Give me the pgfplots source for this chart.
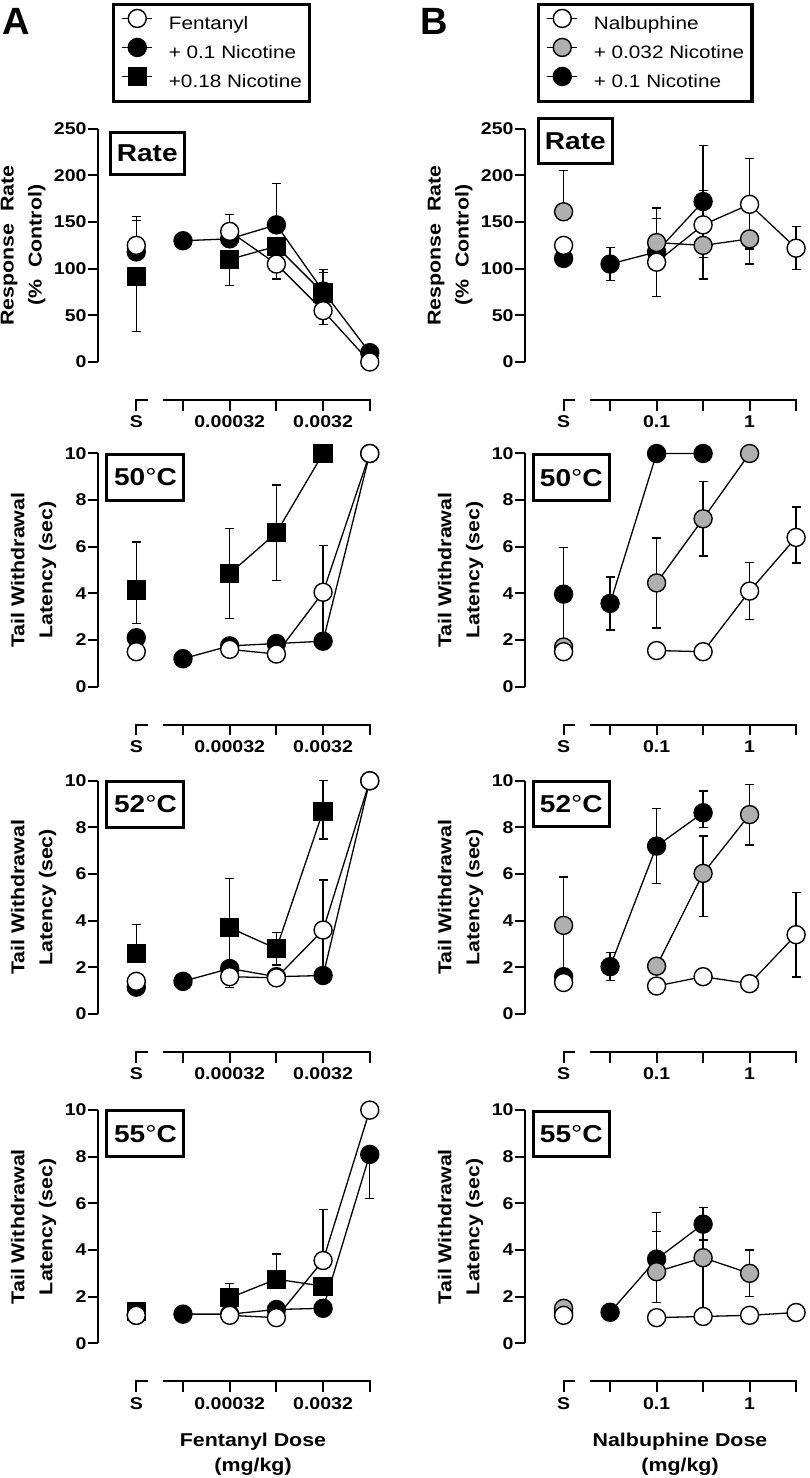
\documentclass[border=0pt]{standalone}
\usepackage{fontspec}
\setmainfont{Liberation Sans}[FakeStretch=1.15]
\newfontfamily\plainfont{Liberation Sans}
\usepackage{pgfplots}
\pgfplotsset{compat=1.18}
\definecolor{gfill}{RGB}{175,175,175}
\newcommand{\ticklab}{\fontsize{8.5}{10}\selectfont\bfseries}
\newcommand{\ylab}{\fontsize{9.3}{14}\selectfont\bfseries}
\newcommand{\boxf}{\fontsize{12.2}{14}\selectfont\bfseries}
\newcommand{\legf}{\fontsize{9}{14}\selectfont}
\newcommand{\dg}{{\mdseries °}}
\newcommand{\lsp}{\hspace*{8pt}}
\pgfplotsset{
  table/x=x, table/y=y, table/y error plus=p, table/y error minus=m,
  panel/.style={scale only axis, width=140.1pt, height=116.6pt,
    xmin=-1.82, xmax=4.18, ymin=0, enlargelimits=false, clip=false,
    axis x line=none, axis y line=left, xtick=\empty,
    axis line style={-, line width=1pt, black},
    major tick style={line width=1pt, black},
    tick align=outside, major tick length=4.85pt,
    yticklabel style={font=\ticklab, inner sep=0.7pt},
    ylabel style={font=\ylab, align=center},
    unbounded coords=jump,
    /pgf/number format/assume math mode=true},
  rpanel/.style={panel, width=139.5pt, xmin=-1.83, xmax=4.17},
  ratep/.style={ymax=250, ytick={0,50,...,250}, ylabel={Response\ \ Rate\\(\%\ \ Control)}},
  tailp/.style={ymax=10, ytick={0,2,...,10}, ylabel={Tail Withdrawal\\Latency (sec)}},
  sOpen/.style={black, line width=0.65pt, mark=*, mark size=4.5pt, mark options={fill=white, draw=black, line width=0.7pt}},
  sBlack/.style={black, line width=0.65pt, mark=*, mark size=4.5pt, mark options={fill=black, draw=black, line width=0.7pt}},
  sGray/.style={black, line width=0.65pt, mark=*, mark size=4.5pt, mark options={fill=gfill, draw=black, line width=0.7pt}},
  sSq/.style={black, line width=0.65pt, mark=square*, mark size=4.45pt, mark options={fill=black, draw=black, line width=0.7pt}},
  eb/.style={forget plot, error bars/.cd, y dir=both, y explicit,
    error bar style={line width=0.65pt, black},
    error mark options={rotate=90, line width=0.65pt, black, mark size=2.25pt}},
  legbox/.style={legend style={at={(#1,1.54)}, anchor=north west, draw=black, line width=1.6pt,
    inner xsep=4pt, inner ysep=2.5pt, row sep=0pt,
    nodes={inner sep=0pt, minimum height=14pt, font=\legf}},
    legend cell align=left},
}
\tikzset{
  axl/.style={line width=1pt, black},
  xlab/.style={anchor=base, inner sep=0pt, font=\ticklab},
  pbox/.style={draw=black, line width=1.5pt, fill=white, inner sep=0pt, font=\boxf, anchor=north west},
}
\newcommand{\xaxis}[2]{%
  \draw[axl] ([yshift=-24.3pt]axis cs:-1,0) -- ([yshift=-19pt]axis cs:-1,0) -- ([yshift=-19pt]axis cs:-0.75,0);
  \draw[axl] ([yshift=-19pt]axis cs:-0.43,0) -- ([yshift=-19pt]axis cs:4,0) -- ([yshift=-24.3pt]axis cs:4,0);
  \draw[axl] ([yshift=-19pt]axis cs:0,0) -- ([yshift=-24.3pt]axis cs:0,0);
  \draw[axl] ([yshift=-19pt]axis cs:1,0) -- ([yshift=-24.3pt]axis cs:1,0);
  \draw[axl] ([yshift=-19pt]axis cs:2,0) -- ([yshift=-24.3pt]axis cs:2,0);
  \draw[axl] ([yshift=-19pt]axis cs:3,0) -- ([yshift=-24.3pt]axis cs:3,0);
  \node[xlab] at ([yshift=-33pt]axis cs:-1,0) {S};
  \node[xlab] at ([yshift=-33pt]axis cs:1,0) {#1};
  \node[xlab] at ([yshift=-33pt]axis cs:3,0) {#2};
}
\begin{document}
\begin{tikzpicture}
\useasboundingbox (0pt,0pt) rectangle (404.5pt,739pt);
\node[anchor=base west, inner sep=0pt, font=\plainfont\fontsize{19}{20}\selectfont\bfseries] at (1pt,721.5pt) {A};
\node[anchor=base west, inner sep=0pt, font=\plainfont\fontsize{19}{20}\selectfont\bfseries] at (210pt,721.5pt) {B};

% ===== Left column =====
\begin{axis}[panel, ratep, at={(49pt,558pt)}, anchor=south west, legbox=0.05,
  legend image code/.code={\draw[mark repeat=2,mark phase=2,#1] plot coordinates {(0pt,3pt) (7.5pt,3pt) (15pt,3pt)};}]
\addlegendimage{sOpen}\addlegendentry{\lsp Fentanyl}
\addlegendimage{sBlack}\addlegendentry{\lsp + 0.1 Nicotine}
\addlegendimage{sSq}\addlegendentry{\lsp +0.18 Nicotine}
\addplot[sBlack, eb] table {
x y p m
-1 118 34 0
nan nan 0 0
0 130 0 0
1 132 0 0
2 147 44 0
3 76 20 0
4 10 0 0
};
\addplot[sSq, eb] table {
x y p m
-1 92 0 59
nan nan 0 0
1 110 0 28
2 124 0 0
3 74 25 0
};
\addplot[sOpen, eb] table {
x y p m
-1 125 31 0
nan nan 0 0
1 140 18 0
2 105 0 16
3 55 0 15
4 0 0 0
};
\node[pbox, minimum width=37.25pt, minimum height=20.75pt] at (axis cs:-1.595,247.3) {Rate};
\xaxis{0.00032}{0.0032}
\end{axis}

\begin{axis}[panel, tailp, at={(49pt,395.65pt)}, anchor=south west]
\addplot[sBlack, eb] table {
x y p m
-1 2.1 0 0
nan nan 0 0
0 1.2 0 0
1 1.75 0 0
2 1.85 0 0
3 1.95 0 0
4 10 0 0
};
\addplot[sSq, eb] table {
x y p m
-1 4.15 2.05 1.45
nan nan 0 0
1 4.85 1.93 1.93
2 6.6 2.05 2.05
3 10 0 0
};
\addplot[sOpen, eb] table {
x y p m
-1 1.5 0 0
nan nan 0 0
1 1.6 0 0
2 1.4 0 0
3 4.05 2.0 2.0
4 10 0 0
};
\node[pbox, minimum width=38.5pt, minimum height=23pt] at (axis cs:-1.66,10.03) {50\dg C};
\xaxis{0.00032}{0.0032}
\end{axis}

\begin{axis}[panel, tailp, at={(49pt,232pt)}, anchor=south west]
\addplot[sBlack, eb] table {
x y p m
-1 1.15 0 0
nan nan 0 0
0 1.4 0 0
1 1.95 0 0
2 1.6 0 0
3 1.65 0 0
4 10 0 0
};
\addplot[sSq, eb] table {
x y p m
-1 2.6 1.25 0
nan nan 0 0
1 3.7 2.1 2.1
2 2.8 0.7 0.7
3 8.7 1.3 1.2
};
\addplot[sOpen, eb] table {
x y p m
-1 1.4 0 0
nan nan 0 0
1 1.6 0 0.45
2 1.55 0 0
3 3.6 2.15 2.15
4 10 0 0
};
\node[pbox, minimum width=38.5pt, minimum height=23pt] at (axis cs:-1.66,10.03) {52\dg C};
\xaxis{0.00032}{0.0032}
\end{axis}

\begin{axis}[panel, tailp, at={(49pt,67.35pt)}, anchor=south west]
\addplot[sBlack, eb] table {
x y p m
-1 1.2 0 0
nan nan 0 0
0 1.25 0 0
1 1.25 0 0
2 1.45 0 0
3 1.5 0 0
4 8.1 0 1.9
};
\addplot[sSq, eb] table {
x y p m
-1 1.35 0 0
nan nan 0 0
1 1.95 0.6 0
2 2.75 1.08 0
3 2.45 0 0
};
\addplot[sOpen, eb] table {
x y p m
-1 1.2 0 0
nan nan 0 0
1 1.2 0 0
2 1.1 0 0
3 3.55 2.2 0
4 10 0 0
};
\node[pbox, minimum width=38.5pt, minimum height=23pt] at (axis cs:-1.66,10.03) {55\dg C};
\xaxis{0.00032}{0.0032}
\end{axis}

% ===== Right column =====
\begin{axis}[rpanel, ratep, at={(262.5pt,558pt)}, anchor=south west, legbox=0.043,
  legend image code/.code={\draw[mark repeat=2,mark phase=2,#1] plot coordinates {(0pt,3pt) (7.5pt,3pt) (15pt,3pt)};}]
\addlegendimage{sOpen}\addlegendentry{\lsp Nalbuphine}
\addlegendimage{sGray}\addlegendentry{\lsp + 0.032 Nicotine}
\addlegendimage{sBlack}\addlegendentry{\lsp + 0.1 Nicotine}
\addplot[sBlack, eb] table {
x y p m
-1 111 0 0
nan nan 0 0
0 105 18 18
1 118 36 0
2 172 12 0
};
\addplot[sGray, eb] table {
x y p m
-1 161 44 0
nan nan 0 0
1 128 37 0
2 125 0 36
3 132 0 27
};
\addplot[sOpen, eb] table {
x y p m
-1 125 0 0
nan nan 0 0
1 107 0 37
2 147 85 35
3 169 49 48
4 122 23 23
};
\node[pbox, minimum width=37.25pt, minimum height=22.25pt] at (axis cs:-1.58,262.3) {Rate};
\xaxis{0.1}{1}
\end{axis}

\begin{axis}[rpanel, tailp, at={(262.5pt,395.65pt)}, anchor=south west]
\addplot[sBlack, eb] table {
x y p m
-1 3.97 2.0 2.0
nan nan 0 0
0 3.57 1.14 1.14
1 10 0 0
2 10 0 0
};
\addplot[sGray, eb] table {
x y p m
-1 1.7 0 0
nan nan 0 0
1 4.45 1.93 1.93
2 7.2 1.6 1.6
3 10 0 0
};
\addplot[sOpen, eb] table {
x y p m
-1 1.5 0 0
nan nan 0 0
1 1.55 0 0
2 1.5 0 0
3 4.1 1.22 1.22
4 6.4 1.3 1.1
};
\node[pbox, minimum width=38.25pt, minimum height=22.75pt] at (axis cs:-1.69,10.0) {50\dg C};
\xaxis{0.1}{1}
\end{axis}

\begin{axis}[rpanel, tailp, at={(262.5pt,232pt)}, anchor=south west]
\addplot[sBlack, eb] table {
x y p m
-1 1.6 0 0
nan nan 0 0
0 2.03 0.6 0.6
1 7.2 1.6 1.6
2 8.63 0.93 0.63
};
\addplot[sGray, eb] table {
x y p m
-1 3.8 2.08 2.08
nan nan 0 0
1 2.05 0 0
2 6.03 1.6 1.86
3 8.55 1.28 1.3
};
\addplot[sOpen, eb] table {
x y p m
-1 1.35 0 0
nan nan 0 0
1 1.2 0 0
2 1.6 0 0
3 1.3 0 0
4 3.4 1.82 1.82
};
\node[pbox, minimum width=38.25pt, minimum height=22.75pt] at (axis cs:-1.69,10.04) {52\dg C};
\xaxis{0.1}{1}
\end{axis}

\begin{axis}[rpanel, tailp, at={(262.5pt,67.35pt)}, anchor=south west]
\addplot[sBlack, eb] table {
x y p m
-1 1.3 0 0
nan nan 0 0
0 1.33 0 0
1 3.61 2.0 1.87
2 5.11 0.7 0.66
};
\addplot[sGray, eb] table {
x y p m
-1 1.5 0 0
nan nan 0 0
1 3.07 1.72 0
2 3.67 0.75 2.5
3 3.0 1.0 1.0
};
\addplot[sOpen, eb] table {
x y p m
-1 1.2 0 0
nan nan 0 0
1 1.1 0 0
2 1.15 0 0
3 1.2 0 0
4 1.32 0 0
};
\node[pbox, minimum width=38.25pt, minimum height=22.75pt] at (axis cs:-1.69,10.02) {55\dg C};
\xaxis{0.1}{1}
\end{axis}

\node[anchor=base, inner sep=0pt, font=\ylab] at (126.5pt,15.65pt) {Fentanyl Dose};
\node[anchor=base, inner sep=0pt, font=\ylab] at (126.5pt,3.15pt) {(mg/kg)};
\node[anchor=base, inner sep=0pt, font=\ylab] at (340pt,15.65pt) {Nalbuphine Dose};
\node[anchor=base, inner sep=0pt, font=\ylab] at (340pt,3.15pt) {(mg/kg)};
\end{tikzpicture}
\end{document}
